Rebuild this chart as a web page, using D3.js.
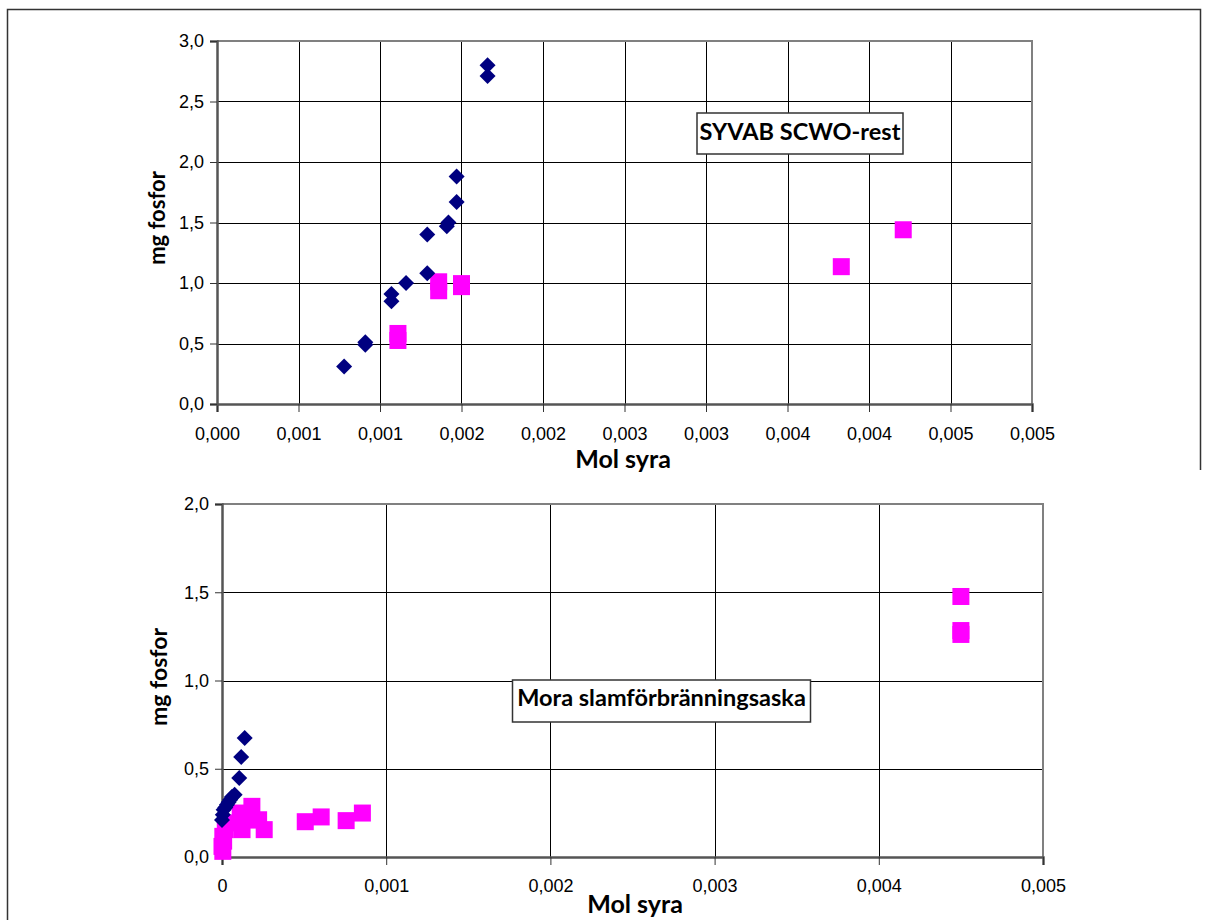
<!DOCTYPE html>
<html><head><meta charset="utf-8">
<script src="https://cdn.jsdelivr.net/npm/d3@7"></script>
<style>
body{margin:0;background:#fff;}
svg{display:block;}
.tick text{font-family:"Liberation Sans",Arial,sans-serif;font-size:18px;fill:#000;}
.title{font-family:Lato,"Noto Sans",sans-serif;font-weight:700;fill:#000;}
</style></head>
<body>
<script>
// ---- data: top chart (SYVAB SCWO-rest) ----
const topDiamondX = [0.00078, 0.00091, 0.00091, 0.00107, 0.00107, 0.00116, 0.00129, 0.00129, 0.00141, 0.00142, 0.00147, 0.00147, 0.00166, 0.00166];
const topDiamondY = [0.31, 0.49, 0.51, 0.91, 0.85, 1.00, 1.40, 1.08, 1.47, 1.50, 1.67, 1.88, 2.80, 2.71];
const topSquareX = [0.00111, 0.00111, 0.00136, 0.00136, 0.00150, 0.00150, 0.00383, 0.00421];
const topSquareY = [0.525, 0.583, 0.936, 1.01, 0.97, 0.995, 1.135, 1.44];
const topXTicks = [0, 0.0005, 0.001, 0.0015, 0.002, 0.0025, 0.003, 0.0035, 0.004, 0.0045, 0.005];
const topXTickLabels = ["0,000","0,001","0,001","0,002","0,002","0,003","0,003","0,004","0,004","0,005","0,005"];
const topYTicks = [0, 0.5, 1, 1.5, 2, 2.5, 3];
const topYTickLabels = ["0,0","0,5","1,0","1,5","2,0","2,5","3,0"];

// ---- data: bottom chart (Mora slamförbränningsaska) ----
const botDiamondX = [0.000138, 0.000117, 0.000105, 0.000077, 0.00006, 0.00005, 0.00004, 0.00003, 0.00002, 0.00001, 0.000005, 0];
const botDiamondY = [0.674, 0.567, 0.448, 0.353, 0.34, 0.325, 0.31, 0.296, 0.28, 0.268, 0.24, 0.21];
const botSquareX = [0.0045, 0.0045, 0.0045, 0.000507, 0.000604, 0.000756, 0.000855, 0.000257, 0.000223, 0.000182, 0.000162, 0.000122, 0.000111, 0.000071, 0.00002, 0.000005, 0, 0.000005, 0.00001];
const botSquareY = [1.476, 1.261, 1.283, 0.20, 0.227, 0.206, 0.249, 0.155, 0.211, 0.287, 0.21, 0.155, 0.249, 0.193, 0.155, 0.117, 0.06, 0.032, 0.09];
const botXTicks = [0, 0.001, 0.002, 0.003, 0.004, 0.005];
const botXTickLabels = ["0","0,001","0,002","0,003","0,004","0,005"];
const botYTicks = [0, 0.5, 1, 1.5, 2];
const botYTickLabels = ["0,0","0,5","1,0","1,5","2,0"];

const W = 1208, H = 920;
const svg = d3.select("body").append("svg").attr("width", W).attr("height", H);

// outer frame
svg.append("path").attr("d", "M7.5,930 L7.5,9.5 L1200.5,9.5 L1200.5,470")
  .attr("fill","none").attr("stroke","#333").attr("stroke-width",1.5);

const NAVY = "#000080", MAG = "#FF00FF";

function chart(o){
  const x = d3.scaleLinear().domain([0, 0.005]).range([o.left, o.right]);
  const y = d3.scaleLinear().domain([0, o.ymax]).range([o.bottom, o.top]);
  const g = svg.append("g");
  // gridlines
  g.append("g").selectAll("line.v").data(o.xTicks.slice(1)).join("line")
    .attr("x1", d=>Math.round(x(d))+0.5).attr("x2", d=>Math.round(x(d))+0.5)
    .attr("y1", o.top).attr("y2", o.bottom).attr("stroke","#000").attr("stroke-width",1);
  g.append("g").selectAll("line.h").data(o.yTicks.slice(1)).join("line")
    .attr("y1", d=>Math.round(y(d))+0.5).attr("y2", d=>Math.round(y(d))+0.5)
    .attr("x1", o.left).attr("x2", o.right).attr("stroke","#000").attr("stroke-width",1);
  // plot border (top/right gray)
  g.append("path").attr("d", `M${o.left},${o.top} L${o.right},${o.top} L${o.right},${o.bottom}`)
    .attr("fill","none").attr("stroke","#808080").attr("stroke-width",2);
  // axes
  const xa = d3.axisBottom(x).tickValues(o.xTicks).tickSize(8).tickPadding(o.xPad)
    .tickFormat((d,i)=>o.xLabels[i]);
  const ya = d3.axisLeft(y).tickValues(o.yTicks).tickSize(7).tickPadding(6)
    .tickFormat((d,i)=>o.yLabels[i]);
  const gx = g.append("g").attr("transform",`translate(0,${o.bottom})`).call(xa);
  const gy = g.append("g").attr("transform",`translate(${o.left},0)`).call(ya);
  [gx, gy].forEach(a=>{
    a.select(".domain").attr("stroke","#555").attr("stroke-width",2.5);
    a.selectAll(".tick line").attr("stroke","#333").attr("stroke-width",1);
  });
  // points: squares then diamonds
  const sq = 17;
  g.append("g").selectAll("rect").data(o.sqX.map((v,i)=>[v,o.sqY[i]])).join("rect")
    .attr("x", d=>x(d[0])-sq/2).attr("y", d=>y(d[1])-sq/2)
    .attr("width", sq).attr("height", sq).attr("fill", MAG);
  const r = 8;
  g.append("g").selectAll("path").data(o.dX.map((v,i)=>[v,o.dY[i]])).join("path")
    .attr("d", d=>{const cx=x(d[0]), cy=y(d[1]); return `M${cx},${cy-r}L${cx+r},${cy}L${cx},${cy+r}L${cx-r},${cy}Z`;})
    .attr("fill", NAVY);
  // label box
  const lb = g.append("g");
  lb.append("rect").attr("x", o.label.x - o.label.w/2).attr("y", o.label.top)
    .attr("width", o.label.w).attr("height", o.label.h)
    .attr("fill","#fff").attr("stroke","#333").attr("stroke-width",1.5);
  lb.append("text").attr("class","title").attr("font-size",23.5)
    .attr("x", o.label.x).attr("y", o.label.y).attr("text-anchor","middle").text(o.label.text);
  // axis titles
  g.append("text").attr("class","title").attr("font-size",o.xt.fs).attr("text-anchor","middle")
    .attr("x", o.xt.x).attr("y", o.xt.y).text("Mol syra");
  g.append("text").attr("class","title").attr("font-size",o.yt.fs).attr("text-anchor","middle")
    .attr("transform",`translate(${o.yt.x},${o.yt.y}) rotate(-90)`).text("mg fosfor");
}

chart({left:217, right:1032, top:41, bottom:404, ymax:3, xPad:15,
  xTicks:topXTicks, xLabels:topXTickLabels, yTicks:topYTicks, yLabels:topYTickLabels,
  dX:topDiamondX, dY:topDiamondY, sqX:topSquareX, sqY:topSquareY,
  label:{text:"SYVAB SCWO-rest", x:800, y:140, top:113, h:41, w:206},
  xt:{x:623, y:468, fs:25}, yt:{x:165, y:218, fs:22}});

chart({left:222, right:1043, top:504, bottom:857, ymax:2, xPad:14,
  xTicks:botXTicks, xLabels:botXTickLabels, yTicks:botYTicks, yLabels:botYTickLabels,
  dX:botDiamondX, dY:botDiamondY, sqX:botSquareX, sqY:botSquareY,
  label:{text:"Mora slamförbränningsaska", x:661.5, y:706, top:680, h:42, w:298},
  xt:{x:635, y:913, fs:25}, yt:{x:167, y:677, fs:23}});
</script>
</body></html>
